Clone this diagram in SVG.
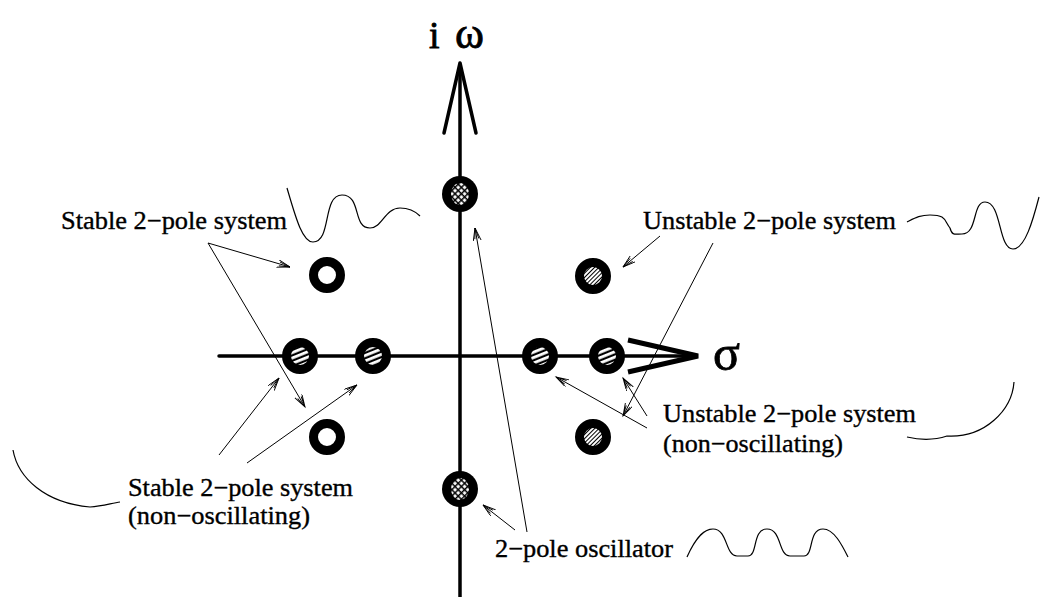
<svg xmlns="http://www.w3.org/2000/svg" width="1040" height="597" viewBox="0 0 1040 597">
<style>
.lbl{font-family:"Liberation Serif","Times New Roman",serif;font-size:25px;fill:#000;stroke:#000;stroke-width:0.35}
.sym{font-family:"Liberation Serif","Times New Roman",serif;fill:#000;stroke:#000;stroke-width:0.8}
.lead{stroke:#000;stroke-width:1;fill:none;marker-end:url(#ah)}
.wave{stroke:#000;stroke-width:1.2;fill:none}
.ring{fill:none;stroke:#000;stroke-width:9}
.axis{stroke:#000;stroke-width:3.5;fill:none;stroke-linecap:round;stroke-linejoin:round}
</style>
<defs>
<marker id="ah" markerUnits="userSpaceOnUse" markerWidth="16" markerHeight="10" refX="13" refY="4" orient="auto">
<path d="M0,0 L13,4 L0,8 M2,2 L13,4 L2,6" fill="none" stroke="#000" stroke-width="0.9"/>
</marker>
<pattern id="hAxis" patternUnits="userSpaceOnUse" width="5" height="5" patternTransform="rotate(-22)">
<rect width="5" height="5" fill="#000"/>
<rect y="0" width="5" height="2.8" fill="#fff"/>
</pattern>
<pattern id="hFine" patternUnits="userSpaceOnUse" width="3" height="3" patternTransform="rotate(45)">
<rect width="3" height="3" fill="#fff"/>
<rect width="1" height="3" fill="#000"/>
</pattern>
<pattern id="hOsc" patternUnits="userSpaceOnUse" width="4.5" height="4.5" patternTransform="rotate(45)">
<rect width="4.5" height="4.5" fill="#000"/>
<rect x="0.5" y="0.5" width="3" height="3" fill="#fff"/>
</pattern>
</defs>
<rect width="1040" height="597" fill="#fff"/>

<g id="axes">
<line class="axis" x1="460" y1="597" x2="460" y2="66"/>
<path class="axis" d="M444,133 L460,63 L476,133"/>
<line class="axis" x1="219" y1="356" x2="694" y2="356"/>
<path d="M628,340 L698,356 L628,372" fill="none" stroke="#000" stroke-width="5" stroke-linejoin="miter"/>
</g>

<g id="axis-labels">
<text class="sym" y="48"><tspan x="429" font-size="38">i</tspan><tspan x="455" font-size="44">ω</tspan></text>
<text class="sym" x="713" y="370" font-size="50">σ</text>
</g>

<g id="pole-osc-top"><circle cx="460" cy="194" r="18" fill="#000"/><ellipse cx="460" cy="194" rx="9" ry="11" fill="url(#hOsc)"/></g>
<g id="pole-osc-bottom"><circle cx="460" cy="489" r="18" fill="#000"/><ellipse cx="460" cy="489" rx="9" ry="11" fill="url(#hOsc)"/></g>

<g id="pole-stable-upper"><circle class="ring" cx="327" cy="275" r="13.5" fill="#fff"/></g>
<g id="pole-stable-lower"><circle class="ring" cx="327" cy="437" r="13.5"/></g>

<g id="pole-stable-axis-1"><circle cx="300" cy="356" r="10" fill="url(#hAxis)"/><circle class="ring" cx="300" cy="356" r="13.5"/></g>
<g id="pole-stable-axis-2"><circle cx="373" cy="356" r="10" fill="url(#hAxis)"/><circle class="ring" cx="373" cy="356" r="13.5"/></g>
<g id="pole-unstable-axis-1"><circle cx="540" cy="356" r="10" fill="url(#hAxis)"/><circle class="ring" cx="540" cy="356" r="13.5"/></g>
<g id="pole-unstable-axis-2"><circle cx="607" cy="356" r="10" fill="url(#hAxis)"/><circle class="ring" cx="607" cy="356" r="13.5"/></g>

<g id="pole-unstable-upper"><circle cx="593" cy="276" r="10" fill="url(#hFine)"/><circle class="ring" cx="593" cy="276" r="13.5"/></g>
<g id="pole-unstable-lower"><circle cx="593" cy="437" r="10" fill="url(#hFine)"/><circle class="ring" cx="593" cy="437" r="13.5"/></g>

<g id="connectors">
<line class="lead" x1="208" y1="243" x2="290" y2="267"/>
<line class="lead" x1="208" y1="243" x2="305" y2="407"/>
<line class="lead" x1="219" y1="455" x2="279" y2="378"/>
<line class="lead" x1="247" y1="463" x2="357" y2="385"/>
<line class="lead" x1="527" y1="532" x2="475" y2="228"/>
<line class="lead" x1="515" y1="530" x2="483" y2="505"/>
<line class="lead" x1="660" y1="236" x2="623" y2="267"/>
<line class="lead" x1="713" y1="243" x2="623" y2="416"/>
<line class="lead" x1="647" y1="428" x2="556" y2="377"/>
<line class="lead" x1="647" y1="416" x2="623" y2="378"/>
</g>

<g id="waves">
<path class="wave" d="M287,188 C295,215 302,242 313,242 C332,242 322,195 342,195 C362,195 352,228 370,228 C382,228 385,208 400,208 C410,208 416,212 420,216"/>
<path class="wave" d="M907,222 C915,218 920,215 930,215 C946,215 944,220 950,228 C952,236 955,234 962,234 C978,234 972,202 985,202 C1002,202 998,249 1013,249 C1025,249 1033,220 1039,197"/>
<path class="wave" d="M1014,382 C1012,410 985,438 947,436 C935,440 920,440 907,437"/>
<path class="wave" d="M13,450 C18,478 45,503 90,507 C103,506 112,503 120,502"/>
<path class="wave" d="M687,557 C697,535 705,529 713,529 C728,529 725,556 737,556 L748,556 C758,556 752,529 767,529 C782,529 778,556 790,556 L804,556 C814,556 808,529 823,529 C834,529 842,545 848,557"/>
</g>

<g id="labels">
<text class="lbl" x="61" y="229" textLength="226" lengthAdjust="spacingAndGlyphs">Stable 2−pole system</text>
<text class="lbl" x="643" y="229" textLength="253" lengthAdjust="spacingAndGlyphs">Unstable 2−pole system</text>
<text class="lbl" x="663" y="422" textLength="253" lengthAdjust="spacingAndGlyphs">Unstable 2−pole system</text>
<text class="lbl" x="663" y="452" textLength="180" lengthAdjust="spacingAndGlyphs">(non−oscillating)</text>
<text class="lbl" x="128" y="496" textLength="225" lengthAdjust="spacingAndGlyphs">Stable 2−pole system</text>
<text class="lbl" x="128" y="524" textLength="182" lengthAdjust="spacingAndGlyphs">(non−oscillating)</text>
<text class="lbl" x="495" y="557" textLength="178" lengthAdjust="spacingAndGlyphs">2−pole oscillator</text>
</g>
</svg>
